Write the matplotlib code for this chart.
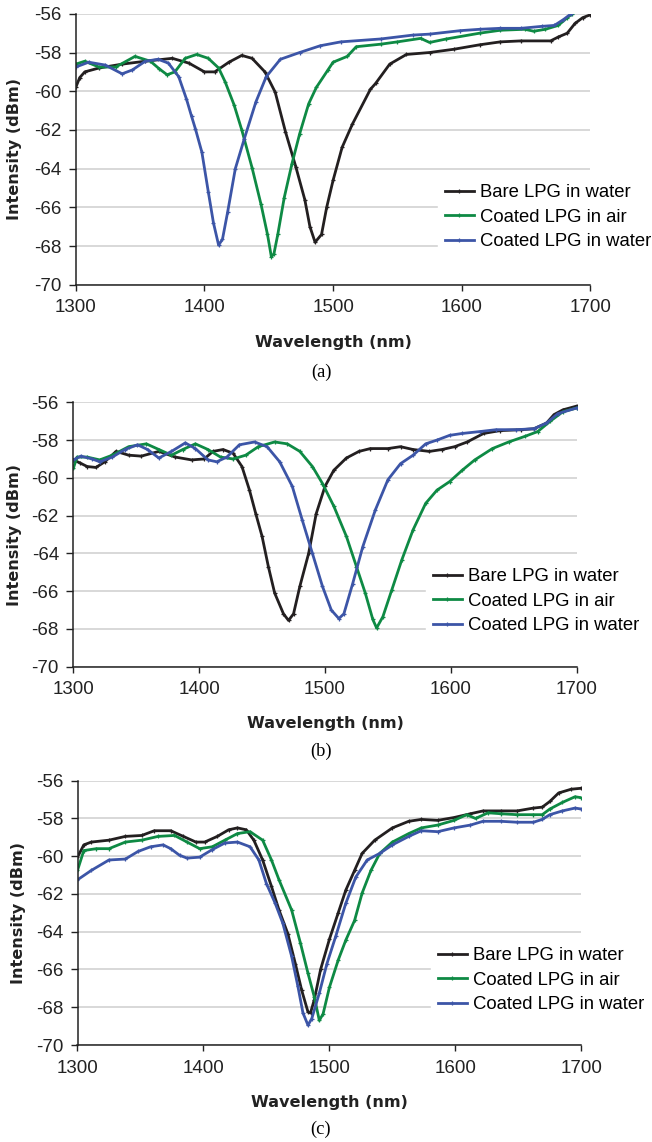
import matplotlib
matplotlib.use('Agg')
from matplotlib import pyplot as plt

plt.rcParams['axes.unicode_minus'] = False
plt.rcParams['font.family'] = 'Liberation Sans'

# series names
labels = ['Bare LPG in water', 'Coated LPG in air', 'Coated LPG in water']
colors = ['#231f20', '#0e8a44', '#3c55a7']
x_ticks = [1300, 1400, 1500, 1600, 1700]
y_ticks = [-70, -68, -66, -64, -62, -60, -58, -56]
panel_tags = ['(a)', '(b)', '(c)']

# panel (a)
a_bare_wl = [1300, 1303, 1307, 1318, 1336, 1354, 1375, 1388, 1400, 1408, 1419, 1429, 1437, 1447, 1455,
             1463, 1471, 1478, 1482, 1486, 1491, 1495, 1500, 1507, 1515, 1529, 1533, 1544, 1557, 1575,
             1594, 1614, 1630, 1646, 1669, 1675, 1682, 1688, 1694, 1700]
a_bare = [-59.8, -59.3, -59.0, -58.8, -58.6, -58.45, -58.3, -58.55, -59.0, -59.0, -58.5, -58.15, -58.3,
          -59.0, -60.05, -62.1, -63.9, -65.6, -67.0, -67.8, -67.4, -66.0, -64.6, -62.9, -61.7, -59.9,
          -59.6, -58.6, -58.1, -58.0, -57.83, -57.6, -57.45, -57.4, -57.4, -57.2, -57.0, -56.5, -56.2, -56.05]
a_air_wl = [1300, 1307, 1318, 1331, 1346, 1358, 1365, 1371, 1377, 1385, 1394, 1403, 1411, 1416, 1423,
            1429, 1437, 1444, 1449, 1452, 1454, 1457, 1462, 1468, 1474, 1481, 1487, 1496, 1500, 1511,
            1518, 1537, 1550, 1568, 1575, 1588, 1614, 1630, 1649, 1656, 1665, 1675, 1682, 1686, 1692]
a_air = [-58.6, -58.45, -58.75, -58.75, -58.2, -58.45, -58.85, -59.15, -59.0, -58.3, -58.1, -58.3, -58.8,
         -59.5, -60.7, -62.0, -63.95, -65.85, -67.4, -68.55, -68.4, -67.4, -65.5, -63.75, -62.2, -60.65,
         -59.8, -58.9, -58.5, -58.2, -57.7, -57.57, -57.45, -57.27, -57.48, -57.3, -57.0, -56.85, -56.8,
         -56.9, -56.8, -56.6, -56.2, -56.0, -55.7]
a_water_wl = [1300, 1310, 1323, 1336, 1344, 1354, 1364, 1372, 1380, 1386, 1390, 1393, 1398, 1403, 1407,
              1411, 1414, 1418, 1424, 1431, 1440, 1448, 1459, 1474, 1490, 1506, 1537, 1562, 1575, 1599,
              1614, 1630, 1646, 1662, 1672, 1679, 1685, 1692]
a_water = [-58.75, -58.5, -58.65, -59.1, -58.9, -58.45, -58.35, -58.55, -59.25, -60.4, -61.3, -61.95,
           -63.15, -65.2, -66.8, -67.95, -67.65, -66.25, -64.0, -62.45, -60.55, -59.25, -58.35, -58.0,
           -57.65, -57.45, -57.3, -57.1, -57.05, -56.87, -56.8, -56.75, -56.75, -56.65, -56.6, -56.3,
           -56.0, -55.7]

# panel (b)
b_bare_wl = [1300, 1305, 1311, 1318, 1325, 1334, 1344, 1354, 1368, 1381, 1394, 1404, 1411, 1419, 1427,
             1434, 1440, 1445, 1450, 1455, 1460, 1467, 1471, 1475, 1480, 1487, 1493, 1500, 1507, 1517,
             1527, 1536, 1550, 1560, 1570, 1583, 1593, 1603, 1613, 1626, 1639, 1656, 1666, 1676, 1682,
             1689, 1700]
b_bare = [-59.05, -59.2, -59.4, -59.45, -59.15, -58.6, -58.8, -58.85, -58.6, -58.9, -59.05, -59.0, -58.6,
          -58.5, -58.7, -59.4, -60.65, -61.9, -63.1, -64.7, -66.1, -67.2, -67.55, -67.2, -65.75, -64.0,
          -61.9, -60.45, -59.6, -58.95, -58.6, -58.45, -58.45, -58.35, -58.5, -58.6, -58.5, -58.35,
          -58.1, -57.65, -57.5, -57.45, -57.4, -57.1, -56.65, -56.4, -56.2]
b_air_wl = [1300, 1303, 1311, 1321, 1331, 1344, 1358, 1368, 1378, 1387, 1397, 1407, 1417, 1427, 1437,
            1447, 1460, 1470, 1480, 1490, 1498, 1507, 1517, 1525, 1532, 1538, 1541, 1546, 1553, 1561,
            1570, 1580, 1589, 1599, 1609, 1619, 1633, 1646, 1659, 1669, 1679, 1689, 1700]
b_air = [-59.5, -58.9, -58.9, -59.05, -58.8, -58.35, -58.2, -58.5, -58.8, -58.5, -58.2, -58.5, -58.9,
         -59.0, -58.8, -58.35, -58.1, -58.2, -58.6, -59.4, -60.3, -61.5, -63.1, -64.7, -66.1, -67.5,
         -67.95, -67.35, -65.95, -64.35, -62.75, -61.35, -60.65, -60.2, -59.6, -59.05, -58.45, -58.1,
         -57.8, -57.55, -57.0, -56.5, -56.3]
b_water_wl = [1300, 1306, 1315, 1321, 1331, 1341, 1351, 1359, 1368, 1378, 1389, 1397, 1407, 1414, 1422,
              1432, 1444, 1454, 1464, 1474, 1482, 1490, 1498, 1505, 1511, 1515, 1522, 1530, 1540, 1550,
              1560, 1570, 1580, 1589, 1599, 1609, 1623, 1636, 1652, 1666, 1676, 1685, 1700]
b_water = [-59.05, -58.85, -59.0, -59.15, -58.9, -58.5, -58.25, -58.5, -58.95, -58.6, -58.15, -58.45,
           -59.05, -59.15, -58.9, -58.25, -58.1, -58.35, -59.15, -60.45, -62.25, -64.0, -65.75, -67.0,
           -67.45, -67.2, -65.6, -63.65, -61.7, -60.1, -59.25, -58.8, -58.2, -58.0, -57.75, -57.65,
           -57.55, -57.45, -57.45, -57.4, -57.1, -56.6, -56.3]

# panel (c)
c_bare_wl = [1300, 1305, 1311, 1325, 1338, 1351, 1361, 1374, 1384, 1394, 1401, 1411, 1420, 1427, 1434,
             1440, 1447, 1454, 1460, 1467, 1473, 1478, 1483, 1485, 1488, 1493, 1500, 1507, 1513, 1520,
             1526, 1536, 1550, 1563, 1573, 1586, 1599, 1612, 1622, 1636, 1649, 1662, 1669, 1675, 1682,
             1692, 1700]
c_bare = [-60.05, -59.4, -59.25, -59.15, -58.95, -58.9, -58.65, -58.65, -58.95, -59.25, -59.25, -58.95,
          -58.6, -58.5, -58.6, -59.15, -60.2, -61.6, -62.85, -64.1, -65.7, -67.1, -68.25, -68.3, -67.6,
          -66.0, -64.4, -63.0, -61.8, -60.75, -59.85, -59.15, -58.5, -58.15, -58.05, -58.1, -57.95,
          -57.75, -57.6, -57.6, -57.6, -57.45, -57.4, -57.1, -56.65, -56.45, -56.4]
c_air_wl = [1300, 1305, 1315, 1325, 1338, 1351, 1364, 1377, 1387, 1397, 1407, 1417, 1427, 1437, 1447,
            1454, 1460, 1470, 1477, 1483, 1488, 1492, 1495, 1500, 1507, 1513, 1520, 1526, 1533, 1540,
            1550, 1563, 1573, 1586, 1599, 1609, 1616, 1626, 1636, 1649, 1662, 1669, 1675, 1685, 1695, 1700]
c_air = [-60.75, -59.7, -59.6, -59.6, -59.25, -59.15, -58.95, -58.9, -59.25, -59.6, -59.5, -59.15, -58.8,
         -58.7, -59.15, -60.2, -61.25, -62.85, -64.6, -66.2, -67.45, -68.7, -68.35, -66.95, -65.5, -64.45,
         -63.4, -61.95, -60.75, -59.85, -59.25, -58.8, -58.5, -58.35, -58.1, -57.8, -58.0, -57.7, -57.75,
         -57.8, -57.8, -57.8, -57.5, -57.15, -56.85, -56.9]
c_water_wl = [1300, 1311, 1325, 1338, 1348, 1358, 1368, 1374, 1381, 1387, 1397, 1407, 1417, 1427, 1437,
              1444, 1450, 1457, 1463, 1470, 1475, 1479, 1483, 1486, 1492, 1498, 1505, 1513, 1521, 1530,
              1540, 1550, 1563, 1573, 1586, 1599, 1612, 1622, 1636, 1649, 1662, 1669, 1675, 1685, 1695, 1700]
c_water = [-61.25, -60.75, -60.2, -60.15, -59.75, -59.5, -59.4, -59.6, -59.95, -60.1, -60.05, -59.65,
           -59.3, -59.25, -59.5, -60.2, -61.45, -62.5, -63.55, -65.3, -66.9, -68.3, -68.95, -68.6, -67.25,
           -65.7, -64.25, -62.5, -61.1, -60.2, -59.85, -59.4, -58.95, -58.65, -58.7, -58.5, -58.35, -58.15,
           -58.15, -58.2, -58.2, -58.05, -57.8, -57.6, -57.45, -57.5]

panels = [
    [(a_bare_wl, a_bare), (a_air_wl, a_air), (a_water_wl, a_water)],
    [(b_bare_wl, b_bare), (b_air_wl, b_air), (b_water_wl, b_water)],
    [(c_bare_wl, c_bare), (c_air_wl, c_air), (c_water_wl, c_water)],
]

W, H = 652, 1142
fig = plt.figure(figsize=(W / 100, H / 100), dpi=100)

# pixel layout: axes left/right/top/bottom, legend corner, label positions
boxes = [(75.8, 590.4, 13.8, 284.8), (73.3, 576.7, 402.3, 666.7), (77.5, 581.3, 780.7, 1045.0)]
legend_corner = [(437.6, 177), (425.6, 561), (430.6, 940)]
xlabel_y = [342, 723.3, 1102.3]
ylabel_x = [14.6, 14.6, 18.7]
tag_y = [372, 751.7, 1129.3]

for i, curves in enumerate(panels):
    l, r, t, b = boxes[i]
    ax = fig.add_axes([l / W, 1 - b / H, (r - l) / W, (b - t) / H])
    for (wl, vals), lab, col in zip(curves, labels, colors):
        ax.plot(wl, vals, color=col, lw=2.0, marker='+', ms=2.6, mew=0.9, label=lab)
    ax.set_xlim(1300, 1700)
    ax.set_ylim(-70, -56)
    ax.set_xticks(x_ticks)
    ax.set_yticks(y_ticks)
    ax.yaxis.grid(True, color='#d6d6d6', lw=1.3)
    ax.set_axisbelow(True)
    for s in ['top', 'right']:
        ax.spines[s].set_visible(False)
    for s in ['left', 'bottom']:
        ax.spines[s].set_linewidth(1.1)
        ax.spines[s].set_color('#222222')
    ax.tick_params(axis='both', direction='out', width=1.0, labelsize=13.5, colors='#222222')
    ax.tick_params(axis='x', length=4.2, pad=6.3)
    ax.tick_params(axis='y', length=4.8, pad=5.5)

    lx, ly = legend_corner[i]
    leg = ax.legend(loc='upper left', bbox_to_anchor=(lx / W, 1 - ly / H),
                    bbox_transform=fig.transFigure, borderaxespad=0, borderpad=0.4,
                    handlelength=1.57, handletextpad=0.35, labelspacing=0.4,
                    numpoints=1, fontsize=13.3, frameon=True, fancybox=False)
    leg.get_frame().set_facecolor('white')
    leg.get_frame().set_edgecolor('white')
    leg.get_frame().set_alpha(1)

    fig.text((l + r) / 2 / W, 1 - xlabel_y[i] / H, 'Wavelength (nm)', family='DejaVu Sans',
             fontweight='bold', fontsize=11.6, ha='center', va='center', color='#222222')
    fig.text(ylabel_x[i] / W, 1 - (t + b) / 2 / H, 'Intensity (dBm)', family='DejaVu Sans',
             fontweight='bold', fontsize=11.6, ha='center', va='center', rotation=90, color='#222222')
    fig.text(321 / W, 1 - tag_y[i] / H, panel_tags[i], family='Liberation Serif',
             fontsize=13.3, ha='center', va='center')

fig.savefig('out.png', dpi=100)
